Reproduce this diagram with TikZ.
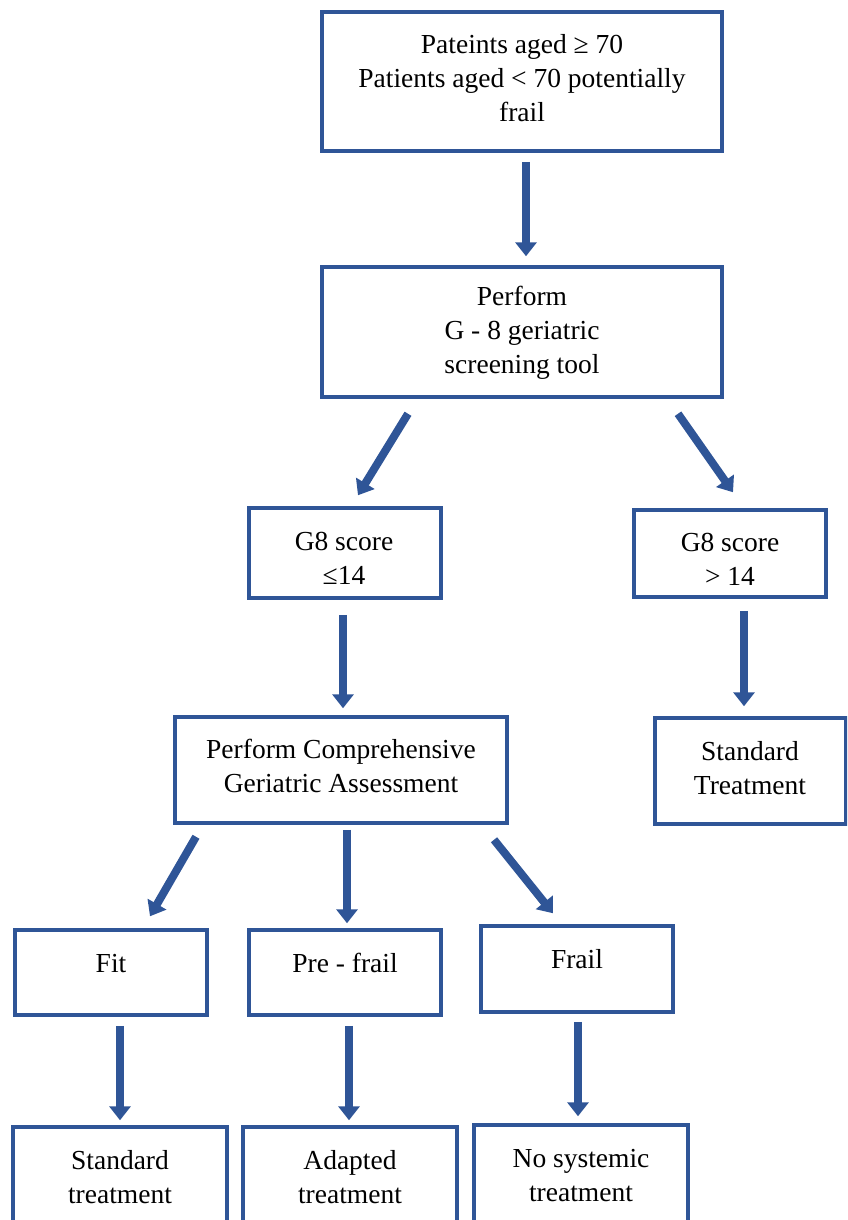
\documentclass[tikz,border=0pt]{standalone}
\usepackage{fontspec}
\setmainfont{Liberation Serif}
\usetikzlibrary{arrows.meta,calc}
\definecolor{fblue}{HTML}{2F5597}
\tikzset{
  box/.style={draw=fblue, line width=3.5pt, inner sep=0pt, fill=white},
  txt/.style={align=center, font=\fontsize{27.5}{34}\selectfont, inner sep=0pt, text=black},
  arr/.style={draw=fblue, line width=8pt, -{Triangle[width=21pt,length=14pt]}},
}
\begin{document}
\begin{tikzpicture}[x=1pt,y=-1pt]
\useasboundingbox (0,0) rectangle (847,1220);
\clip (0,0) rectangle (847,1220);
% boxes
\node[box, minimum width=400pt, minimum height=139pt] (b1) at (522,81.5) {};
\node[box, minimum width=400pt, minimum height=130pt] (b2) at (522,332) {};
\node[box, minimum width=192pt, minimum height=90pt] (b3) at (345,553) {};
\node[box, minimum width=192pt, minimum height=87pt] (b4) at (730,553.5) {};
\node[box, minimum width=332pt, minimum height=106pt] (b5) at (341,770) {};
\node[box, minimum width=191pt, minimum height=106pt] (b6) at (750.5,771) {};
\node[box, minimum width=192pt, minimum height=85pt] (b7) at (111,972.5) {};
\node[box, minimum width=192pt, minimum height=85pt] (b8) at (345,972.5) {};
\node[box, minimum width=192pt, minimum height=86pt] (b9) at (577,969) {};
\node[box, minimum width=214pt, minimum height=140pt] (b10) at (120,1197) {};
\node[box, minimum width=214pt, minimum height=140pt] (b11) at (350,1197) {};
\node[box, minimum width=214pt, minimum height=140pt] (b12) at (581,1195) {};
% texts
\node[txt] (t1) at (522,78) {Pateints aged ≥ 70\\Patients aged < 70 potentially\\frail};
\node[txt] (t2) at (522,333) {Perform\\G - 8 geriatric\\screening tool};
\node[txt] (t3) at (344,558) {G8 score\\≤14};
\node[txt] (t4) at (730,559) {G8 score\\> 14};
\node[txt] (t5) at (341,766) {Perform Comprehensive\\Geriatric Assessment};
\node[txt] (t6) at (750,768) {Standard\\Treatment};
\node[txt] (t7) at (111,964) {Fit};
\node[txt] (t8) at (345,963) {Pre - frail};
\node[txt] (t9) at (577,959) {Frail};
\node[txt] (t10) at (120,1177) {Standard\\treatment};
\node[txt] (t11) at (350,1177) {Adapted\\treatment};
\node[txt] (t12) at (581,1176) {No systemic\\treatment};
% connectors
\draw[arr] ([shift={(4,9)}]b1.south) -- ([shift={(4,-9)}]b2.north);
\draw[arr] ([shift={(-114,15)}]b2.south) -- ([shift={(13,-11)}]b3.north);
\draw[arr] ([shift={(156,15)}]b2.south) -- ([shift={(3,-16)}]b4.north);
\draw[arr] ([shift={(-2,15)}]b3.south) -- ([shift={(2,-7)}]b5.north);
\draw[arr] ([shift={(14,12)}]b4.south) -- ([shift={(-6.5,-10)}]b6.north);
\draw[arr] ([shift={(-145,12)}]b5.south) -- ([shift={(39,-12)}]b7.north);
\draw[arr] ([shift={(6,5)}]b5.south) -- ([shift={(2,-5)}]b8.north);
\draw[arr] ([shift={(153,15)}]b5.south) -- ([shift={(-24,-11)}]b9.north);
\draw[arr] ([shift={(9,9)}]b7.south) -- ([shift={(0,-5)}]b10.north);
\draw[arr] ([shift={(4,9)}]b8.south) -- ([shift={(-1,-5)}]b11.north);
\draw[arr] ([shift={(1,8)}]b9.south) -- ([shift={(-3,-7)}]b12.north);
\end{tikzpicture}
\end{document}
